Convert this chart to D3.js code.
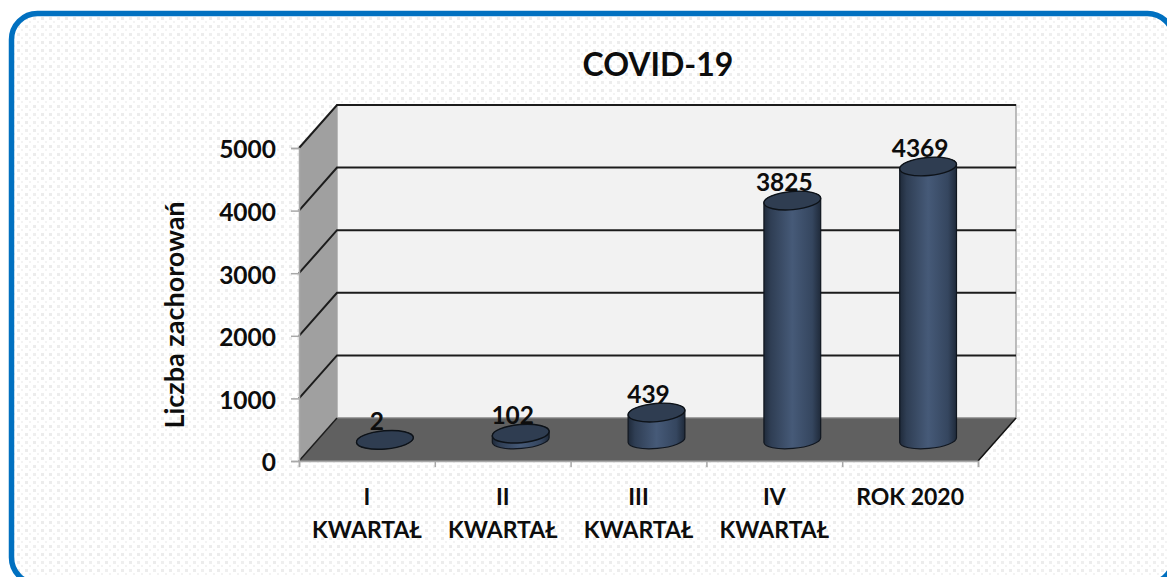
<!DOCTYPE html>
<html><head><meta charset="utf-8">
<script src="https://cdn.jsdelivr.net/npm/d3@7"></script>
<style>html,body{margin:0;padding:0;background:#fff;overflow:hidden}svg{display:block}text{font-family:Lato,"Open Sans",sans-serif;font-weight:700;fill:#0d0d0d}</style>
</head><body><div id="c"></div>
<script>
const chartTitle = "COVID-19";
const yAxisTitle = "Liczba zachorowań";
const categories = [["I","KWARTAŁ"],["II","KWARTAŁ"],["III","KWARTAŁ"],["IV","KWARTAŁ"],["ROK 2020"]];
const values = [2,102,439,3825,4369];
const yTicks = [0,1000,2000,3000,4000,5000];

const W=1167,H=577;
const frontL=299,frontR=978,y0=461,y5=148,dx=38,dy=-43;
const svg=d3.select("#c").append("svg").attr("width",W).attr("height",H);
const defs=svg.append("defs");
const pat=defs.append("pattern").attr("id","dots").attr("width",24).attr("height",24).attr("patternUnits","userSpaceOnUse");
pat.append("rect").attr("width",24).attr("height",24).attr("fill","#fff");
[[1,1,3,"#ececec"],[9,1,3,"#efefef"],[17,1,3,"#ececec"],[5,5,2,"#f3f3f3"],[13,5,2,"#f3f3f3"],[21,5,2,"#f3f3f3"],
 [1,9,3,"#efefef"],[9,9,3,"#ececec"],[17,9,3,"#efefef"],[5,13,2,"#f3f3f3"],[13,13,2,"#f3f3f3"],[21,13,2,"#f3f3f3"],
 [1,17,3,"#ececec"],[9,17,3,"#efefef"],[17,17,3,"#ececec"],[5,21,2,"#f3f3f3"],[13,21,2,"#f3f3f3"],[21,21,2,"#f3f3f3"]]
 .forEach(d=>pat.append("rect").attr("x",d[0]).attr("y",d[1]).attr("width",d[2]).attr("height",d[2]).attr("fill",d[3]));
const body=defs.append("linearGradient").attr("id","body");
[[0,"#1f2a3a"],[.12,"#2f3e54"],[.5,"#465a78"],[.85,"#35465f"],[1,"#1f2a3a"]].forEach(s=>body.append("stop").attr("offset",s[0]).attr("stop-color",s[1]));

// background panel
svg.append("rect").attr("x",11.5).attr("y",13.5).attr("width",1162).attr("height",570).attr("rx",26).attr("fill","url(#dots)").attr("stroke","#0070c0").attr("stroke-width",5.5);

svg.append("text").attr("x",658).attr("y",76).attr("text-anchor","middle").attr("font-size",32).text(chartTitle);

const y=d3.scaleLinear().domain([0,5000]).range([y0,y5]);
const x=d3.scaleBand().domain(categories.map((c,i)=>i)).range([frontL,frontR]).paddingInner(0).paddingOuter(0);
const pts=a=>a.map(p=>p.join(",")).join(" ");

// walls and floor
svg.append("polygon").attr("points",pts([[frontL+dx,y5+dy],[frontR+dx,y5+dy],[frontR+dx,y0+dy],[frontL+dx,y0+dy]])).attr("fill","#f2f2f2").attr("stroke","#a8a8a8").attr("stroke-width",1.5);
svg.append("polygon").attr("points",pts([[frontL,y5],[frontL+dx,y5+dy],[frontL+dx,y0+dy],[frontL,y0]])).attr("fill","#a0a0a0");
svg.append("polygon").attr("points",pts([[frontL,y0],[frontR,y0],[frontR+dx,y0+dy],[frontL+dx,y0+dy]])).attr("fill","#606060").attr("stroke","#8a8a8a").attr("stroke-width",1);

// gridlines
const grid=svg.append("g").attr("fill","none").attr("stroke","#1c1c1c").attr("stroke-width",2);
yTicks.filter(t=>t>0).forEach(t=>{
  grid.append("polyline").attr("points",pts([[frontL,y(t)],[frontL+dx,y(t)+dy],[frontR+dx,y(t)+dy]]));
});
svg.append("line").attr("x1",frontL).attr("y1",y0).attr("x2",frontL+dx).attr("y2",y0+dy).attr("stroke","#1c1c1c").attr("stroke-width",1.5);
svg.append("line").attr("x1",frontR).attr("y1",y0).attr("x2",frontR+dx).attr("y2",y0+dy).attr("stroke","#111").attr("stroke-width",1.5);

// axes
const yAxis=svg.append("g").attr("transform",`translate(${frontL},0)`).call(d3.axisLeft(y).tickValues(yTicks).tickSize(8).tickPadding(15).tickFormat(d3.format("d")));
yAxis.select(".domain").attr("stroke","#a8a8a8").attr("stroke-width",1.5);
yAxis.selectAll(".tick line").attr("stroke","#a8a8a8").attr("stroke-width",1.5);
yAxis.selectAll("text").attr("font-size",24.5).attr("font-family","Lato").attr("font-weight",700).attr("fill","#0d0d0d").attr("dy","0.4em");

const xEdges=d3.scaleLinear().domain([0,categories.length]).range([frontL,frontR]);
const xAxis=svg.append("g").attr("transform",`translate(0,${y0})`).call(d3.axisBottom(xEdges).ticks(categories.length).tickSize(6).tickFormat(""));
xAxis.select(".domain").attr("stroke","#a8a8a8").attr("stroke-width",1.5);
xAxis.selectAll(".tick line").attr("stroke","#a8a8a8").attr("stroke-width",1.5);

categories.forEach((c,i)=>{
  const t=svg.append("text").attr("text-anchor","middle").attr("font-size",23);
  c.forEach((s,k)=>t.append("tspan").attr("x",x(i)+x.bandwidth()/2).attr("y",505+k*33).text(s));
});

svg.append("text").attr("transform","translate(184,315) rotate(-90)").attr("text-anchor","middle").attr("font-size",27).text(yAxisTitle);

// cylinders
const rx=28.5,ry=8.5,tilt=-5;
const hOff=y0-440, cxOff=18;
const ex=rx*Math.cos(tilt*Math.PI/180), ey=rx*Math.sin(tilt*Math.PI/180);
values.forEach((v,i)=>{
  const cx=x(i)+x.bandwidth()/2+cxOff;
  const yb=y(0)-hOff, yt=y(v)-hOff;
  const g=svg.append("g");
  const edge=`M${cx-ex},${yt-ey} L${cx-ex},${yb-ey} A${rx},${ry} ${tilt} 0 0 ${cx+ex},${yb+ey} L${cx+ex},${yt+ey} A${rx},${ry} ${tilt} 0 0 ${cx-ex},${yt-ey} Z`;
  g.append("path").attr("d",edge).attr("fill","url(#body)").attr("stroke","#10161f").attr("stroke-width",1.2);
  g.append("ellipse").attr("cx",cx).attr("cy",yt).attr("rx",rx).attr("ry",ry+.6)
    .attr("transform",`rotate(${tilt} ${cx} ${yt})`).attr("fill","#2f3d51").attr("stroke","#0d1218").attr("stroke-width",1.4);
  svg.append("text").attr("x",cx-8).attr("y",yt-10).attr("text-anchor","middle").attr("font-size",24.5).text(v);
});
</script></body></html>
